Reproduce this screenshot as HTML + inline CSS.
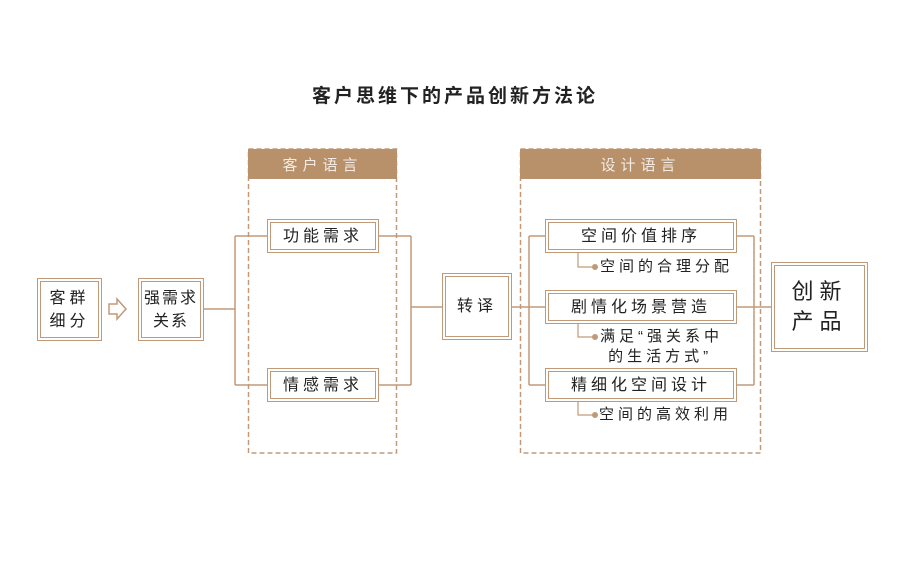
<!DOCTYPE html>
<html><head><meta charset="utf-8"><style>
body{margin:0;width:900px;height:562px;background:#fff;position:relative;overflow:hidden;font-family:"Liberation Sans","Noto Sans CJK SC",sans-serif;color:#222}
.a{position:absolute;box-sizing:border-box}
.b{border:4px double #c09a78;background:#fff;display:flex;align-items:center;justify-content:center;text-align:center;font-size:16px;letter-spacing:4px;line-height:23px;white-space:nowrap}
.h{background:#b8906a;color:#f4ece4;font-size:15px;letter-spacing:5px;display:flex;align-items:center;justify-content:center}
.t{font-size:15px;letter-spacing:4px;line-height:20px;white-space:nowrap}
</style></head><body>
<svg class="a" style="left:0;top:0" width="900" height="562">
<g fill="none" stroke="#c09a78" stroke-width="1.5">
<rect x="248.5" y="149" width="148" height="304" stroke-dasharray="5,3"/>
<rect x="520.5" y="149" width="240" height="304" stroke-dasharray="5,3"/>
<path d="M204 309H235M235 236V385M235 236H267M235 385H267M379 236H411M379 385H411M411 236V385M411 307H442M512 307H545M529 236V385M529 236H545M529 385H545M737 236H754M737 385H754M754 236V385M737 307H771"/>
<path d="M578 253V267H594M578 324V337H594M578 402V415H594" stroke-width="1.2"/>
</g>
<g fill="#c09a78"><circle cx="595" cy="267" r="3"/><circle cx="595" cy="337" r="3"/><circle cx="595" cy="415" r="3"/></g>
<path d="M109 304h8v-5l9 10-9 10v-5h-8z" fill="none" stroke="#c09a78" stroke-width="1.5"/>
</svg>
<div class="a" style="left:0;width:900px;top:81px;text-align:center;font-size:19px;letter-spacing:3px;font-weight:bold;padding-left:10px">客户思维下的产品创新方法论</div>
<div class="a h" style="left:248px;top:149px;width:149px;height:30px">客户语言</div>
<div class="a h" style="left:520px;top:149px;width:241px;height:30px">设计语言</div>
<div class="a b" style="left:37px;top:278px;width:65px;height:63px">客群<br>细分</div>
<div class="a b" style="left:138px;top:278px;width:66px;height:63px;letter-spacing:2px">强需求<br>关系</div>
<div class="a b" style="left:267px;top:219px;width:112px;height:34px">功能需求</div>
<div class="a b" style="left:267px;top:368px;width:112px;height:34px">情感需求</div>
<div class="a b" style="left:442px;top:273px;width:70px;height:67px">转译</div>
<div class="a b" style="left:545px;top:219px;width:192px;height:34px">空间价值排序</div>
<div class="a b" style="left:545px;top:290px;width:192px;height:34px">剧情化场景营造</div>
<div class="a b" style="left:545px;top:368px;width:192px;height:34px">精细化空间设计</div>
<div class="a b" style="left:771px;top:262px;width:97px;height:90px;font-size:22px;line-height:30px;letter-spacing:6px">创新<br>产品</div>
<div class="a t" style="left:600px;top:257px">空间的合理分配</div>
<div class="a t" style="left:600px;top:327px">满足“强关系中<br>&nbsp;的生活方式”</div>
<div class="a t" style="left:599px;top:405px">空间的高效利用</div>
</body></html>
